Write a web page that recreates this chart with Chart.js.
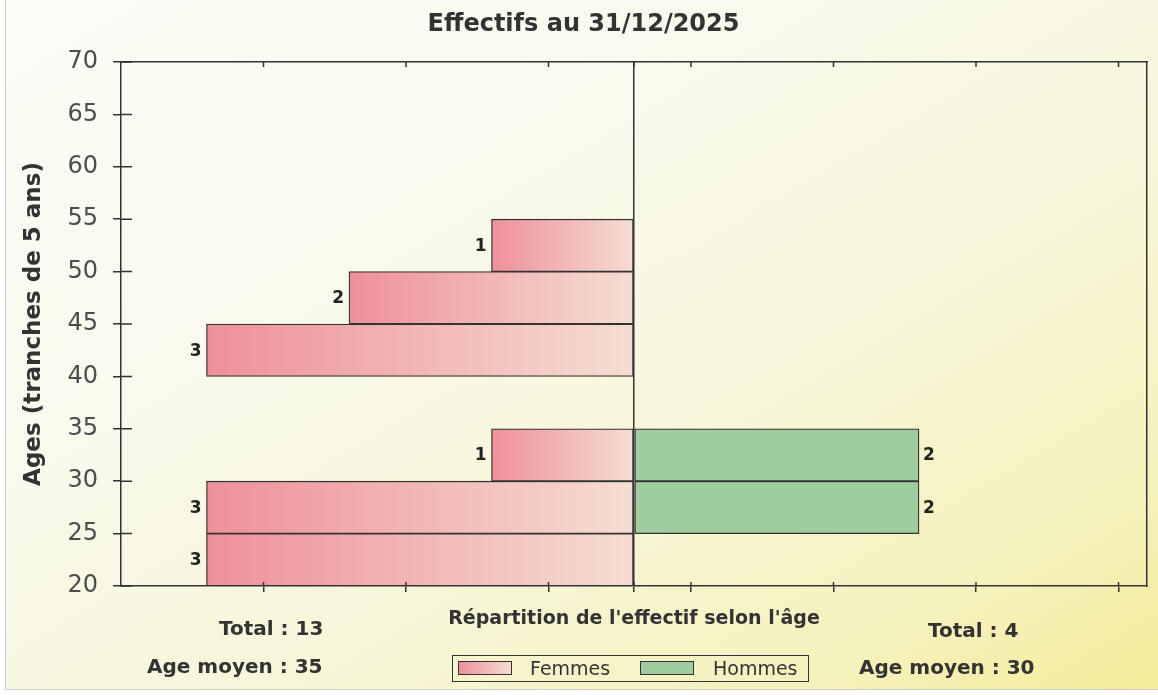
<!DOCTYPE html>
<html>
<head>
<meta charset="utf-8">
<script src="https://cdn.jsdelivr.net/npm/chart.js@4.4.1/dist/chart.umd.min.js"></script>
<style>
html,body{margin:0;padding:0;background:#ffffff;}
#wrap{position:relative;width:1158px;height:695px;overflow:hidden;}
#bg{position:absolute;left:5px;top:-1px;width:1160px;height:691px;box-sizing:border-box;border:1px solid #cdcdcd;
  background:linear-gradient(to bottom right,#fcfcf7 0%,#f9f9ec 35%,#f7f6da 60%,#f5f1bb 85%,#f3ec98 100%);}
canvas{position:absolute;left:0;top:0;}
.ft{position:absolute;font-family:"DejaVu Sans";font-weight:bold;font-size:20px;line-height:24px;color:#333;white-space:nowrap;}
#legendBox{position:absolute;left:452px;top:655px;width:357px;height:27px;box-sizing:border-box;border:1.5px solid #333;}
.sw{position:absolute;width:54px;height:14px;box-sizing:border-box;border:1.5px solid #333;top:661px;}
.lt{position:absolute;font-family:"DejaVu Sans";font-size:19px;line-height:24px;color:#333;top:656px;white-space:nowrap;}
</style>
</head>
<body>
<div id="wrap">
  <div id="bg"></div>
  <canvas id="c" width="1158" height="695"></canvas>
  <div class="ft" id="totF" style="top:616px;"></div>
  <div class="ft" id="ageF" style="top:654px;"></div>
  <div class="ft" id="totH" style="top:618px;left:928px;"></div>
  <div class="ft" id="ageH" style="top:655px;left:859px;"></div>
  <div id="legendBox"></div>
  <div class="sw" id="sw0" style="left:458px;"></div>
  <div class="lt" id="lt0" style="left:530px;"></div>
  <div class="sw" id="sw1" style="left:640px;"></div>
  <div class="lt" id="lt1" style="left:713px;"></div>
</div>
<script>
// ---- Data ----
const ageBandStarts = [20, 25, 30, 35, 40, 45, 50, 55, 60, 65];
const bandWidth = 5;
const femmes = [3, 3, 1, 0, 3, 2, 1, 0, 0, 0];
const hommes = [0, 2, 2, 0, 0, 0, 0, 0, 0, 0];
const seriesNames = ['Femmes', 'Hommes'];
const totals = [13, 4];
const agesMoyens = [35, 30];
const yTickMin = 20, yTickMax = 70, yTickStep = 5;
const xMin = -3.6, xMax = 3.6;
const xTickValues = [-2.6, -1.6, -0.6, 0, 0.4, 1.4, 2.4, 3.4];
const chartTitle = 'Effectifs au 31/12/2025';
const xTitle = "Répartition de l'effectif selon l'âge";
const yTitle = 'Ages (tranches de 5 ans)';

// ---- Colours ----
const pinkDark = '#ee909a', pinkLight = '#f5ddd3';
const green = '#9fcd9e';
const ink = '#333333';

// ---- Build datasets ----
function buildPoints(counts, sign) {
  const pts = [];
  counts.forEach((v, i) => { if (v) pts.push({ x: sign * v, y: ageBandStarts[i] + bandWidth / 2 }); });
  return pts;
}

function pinkGradient(ctx) {
  const chart = ctx.chart;
  if (!chart.chartArea || !ctx.raw) return pinkDark;
  const xs = chart.scales.x;
  const x0 = xs.getPixelForValue(ctx.raw.x), x1 = xs.getPixelForValue(0);
  const g = chart.ctx.createLinearGradient(x0, 0, x1, 0);
  g.addColorStop(0, pinkDark);
  g.addColorStop(1, pinkLight);
  return g;
}

const setTicks = (s) => { s.ticks = xTickValues.map(v => ({ value: v })); };

// value labels next to bars + inward part of the tick marks
const overlay = {
  id: 'overlay',
  afterDatasetsDraw(chart) {
    const c = chart.ctx, a = chart.chartArea;
    const ys = chart.scales.y, xs = chart.scales.x;
    c.save();
    c.strokeStyle = ink;
    c.lineWidth = 1.5;
    c.beginPath();
    for (let i = 0; i < ys.ticks.length; i++) {
      const py = ys.getPixelForValue(ys.ticks[i].value);
      c.moveTo(a.left, py); c.lineTo(a.left + 11, py);
    }
    for (let i = 0; i < xs.ticks.length; i++) {
      const px = xs.getPixelForValue(xs.ticks[i].value);
      c.moveTo(px, a.top); c.lineTo(px, a.top + 5);
      c.moveTo(px, a.bottom); c.lineTo(px, a.bottom - 4);
    }
    c.stroke();

    c.font = 'bold 17px "DejaVu Sans"';
    c.fillStyle = '#222';
    c.textBaseline = 'middle';
    chart.data.datasets.forEach((ds, di) => {
      const meta = chart.getDatasetMeta(di);
      meta.data.forEach((el, i) => {
        const v = ds.data[i].x;
        if (v < 0) { c.textAlign = 'right'; c.fillText(String(-v), el.x - 5, el.y + 1); }
        else { c.textAlign = 'left'; c.fillText(String(v), el.x + 4, el.y + 1); }
      });
    });
    c.restore();
  }
};

new Chart(document.getElementById('c'), {
  type: 'bar',
  data: {
    datasets: [
      { label: seriesNames[0], data: buildPoints(femmes, -1), backgroundColor: pinkGradient,
        borderColor: ink, borderWidth: 1.3, borderSkipped: false, barPercentage: 1, categoryPercentage: 1 },
      { label: seriesNames[1], data: buildPoints(hommes, 1), backgroundColor: green,
        borderColor: ink, borderWidth: 1.3, borderSkipped: false, barPercentage: 1, categoryPercentage: 1 }
    ]
  },
  options: {
    indexAxis: 'y',
    responsive: false,
    animation: false,
    devicePixelRatio: 1,
    layout: { padding: { left: 20, right: 11, top: 0, bottom: 0 } },
    font: { family: '"DejaVu Sans"' },
    plugins: {
      legend: { display: false },
      tooltip: { enabled: false },
      title: { display: true, text: chartTitle, color: ink,
        font: { family: '"DejaVu Sans"', size: 24, weight: 'bold' }, padding: { top: 10.6, bottom: 22.6 } }
    },
    scales: {
      x: {
        type: 'linear', position: 'bottom', min: xMin, max: xMax, stacked: true, offset: false,
        afterBuildTicks: setTicks,
        afterFit: (s) => { s.height = 109; },
        ticks: { display: false },
        grid: { offset: false, drawOnChartArea: true, drawTicks: true, tickLength: 6,
          color: (c) => (c.tick && c.tick.value === 0) ? ink : 'rgba(0,0,0,0)',
          tickColor: ink, lineWidth: 1.5 },
        border: { display: true, color: ink, width: 1.5 },
        title: { display: true, text: xTitle, color: ink,
          font: { family: '"DejaVu Sans"', size: 19, weight: 'bold' }, padding: { top: 0, bottom: 64.6 } }
      },
      xTop: {
        type: 'linear', position: 'top', min: xMin, max: xMax, offset: false,
        afterBuildTicks: setTicks,
        afterFit: (s) => { s.height = 0; },
        ticks: { display: false },
        grid: { offset: false, drawOnChartArea: false, drawTicks: false },
        border: { display: true, color: ink, width: 1.5 }
      },
      y: {
        type: 'linear', position: 'left', min: yTickMin, max: yTickMax, stacked: true, offset: false,
        afterFit: (s) => { s.width = 101; },
        ticks: { stepSize: yTickStep, color: '#4d4d4d', padding: 15,
          font: { family: '"DejaVu Sans"', size: 24 } },
        grid: { offset: false, drawOnChartArea: false, drawTicks: true, tickLength: 8, color: ink, lineWidth: 1.5 },
        border: { display: true, color: ink, width: 1.5 },
        title: { display: true, text: yTitle, color: ink,
          font: { family: '"DejaVu Sans"', size: 23, weight: 'bold' }, padding: { top: 0, bottom: 0 } }
      },
      yRight: {
        type: 'linear', position: 'right', min: yTickMin, max: yTickMax, offset: false,
        afterFit: (s) => { s.width = 0; },
        ticks: { display: false, stepSize: yTickStep },
        grid: { offset: false, drawOnChartArea: false, drawTicks: false },
        border: { display: true, color: ink, width: 1.5 }
      }
    }
  },
  plugins: [overlay]
});

// ---- Footer texts & legend (HTML) ----
const totF = document.getElementById('totF'), ageF = document.getElementById('ageF');
totF.textContent = 'Total : ' + totals[0];
ageF.textContent = 'Age moyen : ' + agesMoyens[0];
totF.style.left = (323 - totF.offsetWidth) + 'px';
ageF.style.left = (323 - ageF.offsetWidth) + 'px';
document.getElementById('totH').textContent = 'Total : ' + totals[1];
document.getElementById('ageH').textContent = 'Age moyen : ' + agesMoyens[1];
document.getElementById('lt0').textContent = seriesNames[0];
document.getElementById('lt1').textContent = seriesNames[1];
document.getElementById('sw0').style.background = 'linear-gradient(to right,' + pinkDark + ',' + pinkLight + ')';
document.getElementById('sw1').style.background = green;
</script>
</body>
</html>
